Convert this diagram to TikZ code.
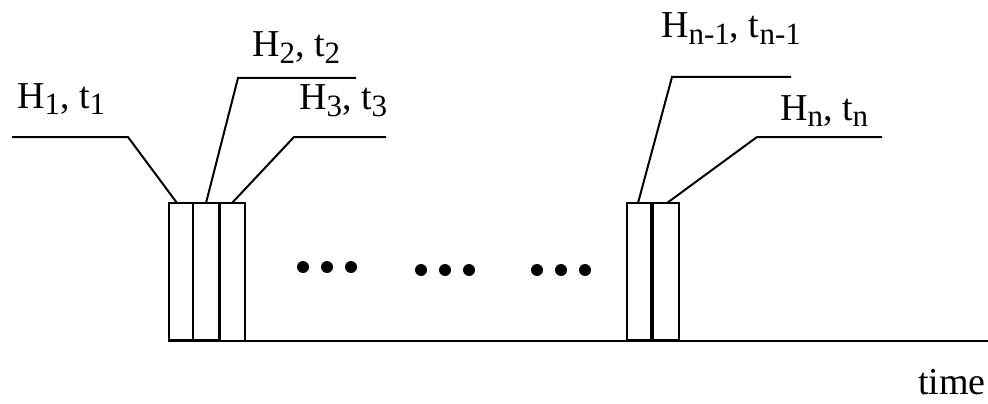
\documentclass[tikz,border=0pt]{standalone}
\usepackage{fontspec}
\setmainfont{Liberation Serif}
\newcommand\lsb[1]{\raisebox{-6pt}{\fontsize{31}{31}\selectfont #1}}
\begin{document}
\begin{tikzpicture}[x=1pt,y=-1pt,
  ln/.style={line width=2pt},
  lbl/.style={anchor=base west,inner sep=0pt,font=\fontsize{38}{40}\selectfont},
  dotc/.style={circle,fill=black,inner sep=0pt,minimum size=12pt}]
\useasboundingbox (0,0) rectangle (988,404);
% boxes
\draw[ln] (169,203) rectangle (193,340);
\draw[ln] (193,203) rectangle (219,340);
\draw[line width=3pt] (219,203) -- (219,340);
\draw[ln] (219,203) -- (245,203) -- (245,340);
\draw[ln] (627,203) rectangle (679,340);
\draw[line width=4pt] (652,203) -- (652,340);
% time axis
\coordinate (a0) at (168,341);
\coordinate (a1) at (988,341);
\draw[ln] (a0) -- (a1);
% labels
\node[lbl] (L1) at (17,108) {H\lsb{1}, t\lsb{1}};
\node[lbl] (L2) at (252,57) {H\lsb{2}, t\lsb{2}};
\node[lbl] (L3) at (299,110) {H\lsb{3}, t\lsb{3}};
\node[lbl] (Ln1) at (661,38) {H\lsb{n-1}, t\lsb{n-1}};
\node[lbl] (Ln) at (780,120) {H\lsb{n}, t\lsb{n}};
\node[lbl] (T) at (918,394) {time};
% leader lines
\coordinate (p1a) at (12,137); \coordinate (p1b) at (128,137); \coordinate (p1c) at (177,203);
\coordinate (p2a) at (356,78); \coordinate (p2b) at (238,78); \coordinate (p2c) at (206,203);
\coordinate (p3a) at (386,137); \coordinate (p3b) at (294,137); \coordinate (p3c) at (232,203);
\coordinate (p4a) at (791,77); \coordinate (p4b) at (672,77); \coordinate (p4c) at (638,203);
\coordinate (p5a) at (882,137); \coordinate (p5b) at (757,137); \coordinate (p5c) at (667,203);
\draw[ln] (p1a) -- (p1b) -- (p1c);
\draw[ln] (p2a) -- (p2b) -- (p2c);
\draw[ln] (p3a) -- (p3b) -- (p3c);
\draw[ln] (p4a) -- (p4b) -- (p4c);
\draw[ln] (p5a) -- (p5b) -- (p5c);
% dots
\foreach \x/\y [count=\i] in {303/267,327/267,351/267,421/270,445/270,469/270,537/270,561/270,585/270}
  \node[dotc] (d\i) at (\x,\y) {};
\end{tikzpicture}
\end{document}
